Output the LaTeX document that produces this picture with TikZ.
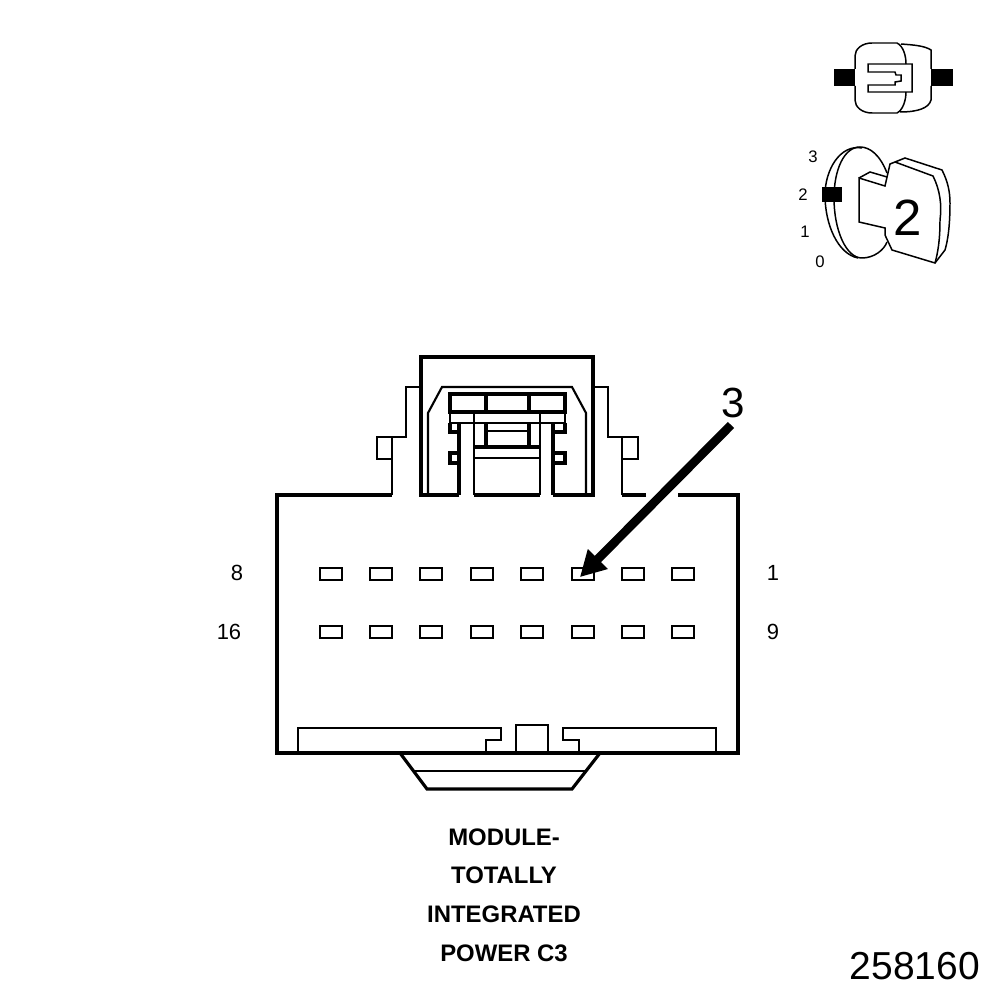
\documentclass[tikz,border=0pt]{standalone}
\usepackage{fontspec}
\setmainfont{Liberation Sans}
\usepackage{tikz}
\usetikzlibrary{arrows.meta}
\tikzset{
    thickln/.style={line width=1.8pt,line join=miter},
    thinln/.style={line width=1.2pt,line join=miter},
    iconln/.style={line width=0.85pt,line join=miter},
    pinbox/.style={draw,line width=1.2pt,minimum width=0.43cm,minimum height=0.25cm,inner sep=0pt},
    pinlabel/.style={font=\fontsize{12.5}{14}\selectfont,inner sep=0pt},
    keylabel/.style={font=\fontsize{9.5}{11}\selectfont,inner sep=0pt},
    titlelabel/.style={font=\fontsize{13.6}{15}\selectfont\bfseries,inner sep=0pt},
}
\begin{document}
\begin{tikzpicture}[x=0.02cm,y=-0.02cm]
    \useasboundingbox (0,0) rectangle (1008,1000);

    % connector body
    \draw[thickln] (646,495) -- (622,495);
    \draw[thinln] (622,495) -- (622,437);
    \draw[thinln] (622,459) -- (638,459) -- (638,437) -- (608,437) -- (608,387) -- (593,387);
    \draw[thickln] (678,495) -- (738,495) -- (738,753) -- (277,753) -- (277,495) -- (392,495);
    \draw[thinln] (392,495) -- (392,437);
    \draw[thinln] (392,459) -- (377,459) -- (377,437) -- (406,437) -- (406,387) -- (421,387);

    % latch housing
    \draw[thickln] (459,495) -- (421,495) -- (421,357) -- (593,357) -- (593,495) -- (553,495);
    \draw[thickln] (474,495) -- (540,495);
    \draw[thinln] (428,495) -- (428,413) -- (442,387) -- (572,387) -- (586,413) -- (586,495);
    \draw[thickln] (450,412) -- (450,394) -- (565,394) -- (565,412) -- cycle;
    \draw[thickln] (486,394) -- (486,412);
    \draw[thickln] (529,394) -- (529,412);
    \draw[thinln] (450,412) -- (450,423) -- (565,423) -- (565,412);
    \draw[thickln] (450,423) -- (450,432) -- (459,432);
    \draw[thickln] (565,423) -- (565,432) -- (553,432);
    \draw[thickln] (459,423) -- (459,495);
    \draw[thickln] (553,423) -- (553,495);
    \draw[thinln] (474,412) -- (474,495);
    \draw[thinln] (540,412) -- (540,495);
    \draw[thickln] (486,423) -- (486,447);
    \draw[thickln] (529,423) -- (529,447);
    \draw[thinln] (486,431) -- (529,431);
    \draw[thickln] (474,447) -- (540,447);
    \draw[thinln] (474,458) -- (540,458);
    \draw[thickln] (459,453) -- (450,453) -- (450,463) -- (459,463);
    \draw[thickln] (553,453) -- (565,453) -- (565,463) -- (553,463);

    % slot and foot
    \draw[thinln] (298,753) -- (298,728) -- (501,728) -- (501,740) -- (486,740) -- (486,753);
    \draw[thinln] (516,753) -- (516,725) -- (548,725) -- (548,753);
    \draw[thinln] (716,753) -- (716,728) -- (563,728) -- (563,740) -- (579,740) -- (579,753);
    \draw[thickln] (400,753) -- (427,789) -- (572,789) -- (600,753);
    \draw[thinln] (413,771) -- (586,771);

    % pins
    \foreach \n/\x in {1/683,2/633,3/583,4/532,5/482,6/431,7/381,8/331}
        \node[pinbox] (p\n) at (\x,574) {};
    \foreach \n/\x in {9/683,10/633,11/583,12/532,13/482,14/431,15/381,16/331}
        \node[pinbox] (p\n) at (\x,632) {};

    \node[pinlabel] (lab8) at (237,573) {8};
    \node[pinlabel] (lab1) at (773,573) {1};
    \node[pinlabel] (lab16) at (229,632) {16};
    \node[pinlabel] (lab9) at (773,632) {9};

    % callout
    \node[font=\fontsize{24}{26}\selectfont,inner sep=0pt] (callout) at (733,403) {3};
    \coordinate (arrowtail) at (731,425);
    \draw[line width=5pt,-{Triangle[length=14.5pt,width=15pt]},shorten >=-2.5pt] (arrowtail) -- (p3.center);

    % caption
    \node[titlelabel] (line1) at (504,837) {MODULE-};
    \node[titlelabel] (line2) at (504,875) {TOTALLY};
    \node[titlelabel] (line3) at (504,914) {INTEGRATED};
    \node[titlelabel] (line4) at (504,953) {POWER C3};
    \node[font=\fontsize{22.2}{24}\selectfont,inner sep=0pt] (figno) at (915,966) {258160};

    % top view of the connector
    \fill (834,69) rectangle (855,86);
    \fill (931,69) rectangle (953,86);
    \draw[iconln] (855,86) -- (855,100) .. controls (855,107) and (862,113) .. (872,113) -- (897,113) .. controls (903,110) and (906,100) .. (906,92);
    \draw[iconln] (855,69) -- (855,56) .. controls (855,49) and (862,43) .. (872,43) -- (897,43) .. controls (903,46) and (906,55) .. (906,64);
    \draw[iconln] (901,44) .. controls (915,45) and (925,46) .. (931,50) -- (931,69);
    \draw[iconln] (931,86) -- (931,100) .. controls (929,108) and (918,112) .. (900,112);
    \draw[iconln] (895,72) -- (868,72) -- (868,64) -- (912,64) -- (912,92) -- (868,92) -- (868,85) -- (895,85) -- (895,82) -- (901,81) -- (901,75) -- (896,75) -- cycle;

    % key position view
    \draw[iconln] (862,148) .. controls (840,144) and (825,170) .. (825,195) .. controls (825,225) and (838,254) .. (858,258);
    \draw[iconln] (887,173) .. controls (880,155) and (870,147) .. (860,147) .. controls (844,147) and (834,170) .. (834,198) .. controls (834,230) and (846,258) .. (862,258) .. controls (874,258) and (884,250) .. (887,242);
    \draw[iconln] (859,178) -- (885,186) -- (890,164) -- (905,158) -- (942,170) .. controls (948,182) and (950,192) .. (950,203) .. controls (950,225) and (948,240) .. (945,250) -- (935,263) -- (892,250) -- (885,235) -- (885,228) -- (859,222) -- cycle;
    \draw[iconln] (859,178) -- (870,172) -- (887,177);
    \draw[iconln] (895,162) -- (933,176) .. controls (940,190) and (942,205) .. (940,220) .. controls (940,240) and (938,252) .. (935,263);
    \fill (822,187) rectangle (842,202);
    \node[font=\fontsize{29}{31}\selectfont,inner sep=0pt] (keypos) at (908,218) {2};
    \node[keylabel] (key3) at (813,157) {3};
    \node[keylabel] (key2) at (803,195) {2};
    \node[keylabel] (key1) at (805,232) {1};
    \node[keylabel] (key0) at (820,262) {0};
\end{tikzpicture}
\end{document}
